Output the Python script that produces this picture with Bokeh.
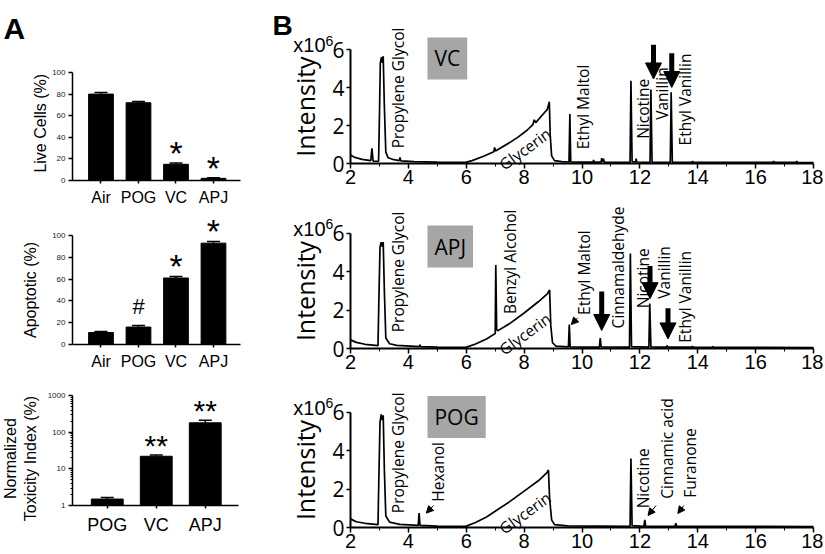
from bokeh.plotting import figure
from bokeh.layouts import row, column
from bokeh.models import (ColumnDataSource, Whisker, TeeHead, Label, LabelSet,
                          Arrow, NormalHead, FixedTicker)
from bokeh.core.properties import value
from bokeh.embed import file_html
from bokeh.resources import INLINE

# ---------------- Panel A data ----------------
live_cats = ["Air", "POG", "VC", "APJ"]
live_vals = [80, 72, 15, 2]
live_errs = [1.5, 1.2, 1.2, 0.6]
live_marks = ["", "", "*", "*"]

apop_cats = ["Air", "POG", "VC", "APJ"]
apop_vals = [11, 16, 61, 93]
apop_errs = [1.0, 1.5, 1.5, 1.5]
apop_marks = ["", "#", "*", "*"]

tox_cats = ["POG", "VC", "APJ"]
tox_vals = [1.5, 22, 180]
tox_errs = [0.15, 2.0, 30]
tox_marks = ["", "**", "**"]

# ---------------- Panel B data (time in min, intensity x10^6) ----------------
vc_time = [2.00, 2.15, 2.40, 2.70, 2.74, 2.78, 2.97, 3.00, 3.03, 3.07, 3.10, 3.13, 3.17, 3.22,
           3.30, 3.50, 3.68, 3.71, 3.74, 4.20, 5.00, 5.98, 6.20, 6.60, 6.95, 6.98, 7.01, 7.50,
           7.80, 8.10, 8.30, 8.35, 8.40, 8.60, 8.80, 8.87, 8.90, 8.95, 9.05, 9.30, 9.55, 9.58,
           9.61, 10.00, 10.38, 10.40, 10.42, 10.66, 10.68, 10.70, 10.74, 10.77, 11.66, 11.69,
           11.73, 11.85, 11.87, 11.89, 12.35, 12.38, 12.42, 13.05, 13.08, 13.12, 13.80, 13.82,
           13.84, 16.60, 16.62, 16.64, 17.40, 17.42, 17.44, 18.00]
vc_int = [0.45, 0.32, 0.22, 0.15, 0.80, 0.13, 0.12, 2.50, 5.30, 5.60, 5.30, 5.65, 3.00, 0.60,
          0.30, 0.20, 0.15, 0.32, 0.14, 0.10, 0.07, 0.06, 0.15, 0.38, 0.62, 0.85, 0.66, 1.10,
          1.40, 1.75, 2.05, 2.30, 2.15, 2.50, 2.85, 3.25, 1.50, 0.40, 0.15, 0.10, 0.08, 2.60,
          0.08, 0.07, 0.07, 0.18, 0.07, 0.07, 0.28, 0.10, 0.25, 0.07, 0.06, 4.35,
          0.10, 0.08, 0.25, 0.08, 0.06, 3.90, 0.07, 0.06, 3.75, 0.07, 0.06, 0.12,
          0.06, 0.06, 0.12, 0.06, 0.06, 0.12, 0.06, 0.05]

apj_time = [2.00, 2.20, 2.50, 2.95, 2.98, 3.02, 3.06, 3.10, 3.13, 3.17, 3.22, 3.35, 3.60, 4.38,
            4.40, 4.42, 5.00, 5.98, 6.30, 6.70, 7.00, 7.02, 7.05, 7.08, 7.50, 8.00, 8.50, 8.80,
            8.88, 8.92, 8.98, 9.10, 9.53, 9.56, 9.59, 10.60, 10.63, 10.66, 11.64, 11.67, 11.71,
            12.31, 12.34, 12.38, 12.92, 12.94, 12.96, 13.80, 13.82, 13.84, 14.50, 14.52, 14.54,
            18.00]
apj_int = [0.45, 0.32, 0.22, 0.15, 2.50, 5.30, 5.55, 5.30, 5.55, 3.00, 0.55, 0.25, 0.16, 0.10,
           0.20, 0.10, 0.07, 0.06, 0.22, 0.50, 0.78, 4.35, 1.00, 0.92, 1.30, 1.85, 2.45, 2.85,
           3.05, 1.20, 0.30, 0.12, 0.08, 1.25, 0.08, 0.07, 0.55, 0.08, 0.07, 4.95, 0.10,
           0.07, 2.35, 0.08, 0.07, 0.15, 0.07, 0.07, 0.12, 0.07, 0.06, 0.10, 0.06,
           0.05]

pog_time = [2.00, 2.20, 2.50, 2.95, 2.98, 3.02, 3.06, 3.10, 3.13, 3.17, 3.22, 3.35, 3.70, 4.34,
            4.37, 4.40, 5.00, 5.98, 6.30, 6.70, 7.00, 7.50, 8.00, 8.50, 8.78, 8.84, 8.88, 8.95,
            9.05, 9.50, 11.66, 11.69, 11.73, 12.14, 12.17, 12.20, 13.21, 13.24, 13.27, 18.00]
pog_int = [0.45, 0.30, 0.22, 0.15, 2.60, 5.50, 5.90, 5.60, 5.85, 3.00, 0.60, 0.28, 0.16, 0.11,
           0.75, 0.11, 0.07, 0.06, 0.25, 0.55, 0.85, 1.35, 1.90, 2.45, 2.85, 3.00, 1.50, 0.40,
           0.15, 0.08, 0.06, 3.60, 0.10, 0.06, 0.40, 0.06, 0.06, 0.22, 0.06, 0.05]

# peak annotations: name, retention time, intensity where the label starts
vc_names = ["Propylene Glycol", "Ethyl Maltol", "Nicotine", "Vanillin", "Ethyl Vanillin"]
vc_name_t = [3.63, 10.05, 12.09, 12.78, 13.56]
vc_name_y = [0.80, 0.75, 1.30, 2.30, 0.95]
vc_arrow_t = [12.47, 13.10]
vc_arrow_from = [6.25, 5.80]
vc_arrow_to = [4.45, 4.00]

apj_names = ["Propylene Glycol", "Benzyl Alcohol", "Ethyl Maltol", "Cinnamaldehyde",
             "Nicotine", "Vanillin", "Ethyl Vanillin"]
apj_name_t = [3.63, 7.50, 10.07, 11.24, 12.09, 12.82, 13.56]
apj_name_y = [0.85, 1.80, 1.75, 1.05, 2.10, 2.60, 0.30]
apj_arrow_t = [10.68, 12.35, 12.97]
apj_arrow_from = [2.97, 4.30, 2.10]
apj_arrow_to = [0.94, 2.60, 0.50]
apj_small = [(9.85, 1.60, 9.63, 1.25)]

pog_names = ["Propylene Glycol", "Hexanol", "Nicotine", "Cinnamic acid", "Furanone"]
pog_name_t = [3.63, 5.04, 12.09, 12.94, 13.73]
pog_name_y = [0.75, 1.35, 1.00, 1.50, 1.55]
pog_small = [(4.87, 1.15, 4.62, 0.75), (12.56, 1.15, 12.28, 0.63), (13.52, 1.15, 13.31, 0.73)]

ARIAL = "Liberation Sans"
OPEN = "Open Sans"


def bar_panel(cats, vals, errs, marks, ylabel, lab_x, lab_y, height, xr, xb, yr,
              bar_w, log=False, cat_size="16px", mark_size="34px", mark_off=-2, letter=None):
    kw = dict(width=244, height=height, min_border=0, x_range=xr, y_range=yr,
              output_backend="svg", toolbar_location=None)
    if log:
        p = figure(y_axis_type="log", **kw)
        base = 1
        yb = (1, 1000)
    else:
        p = figure(**kw)
        base = 0
        yb = (0, 100)
    xs = list(range(len(cats)))
    upper = [v + e for v, e in zip(vals, errs)]
    src = ColumnDataSource(dict(x=xs, top=vals, upper=upper))
    p.vbar(x="x", top="top", bottom=base, width=bar_w, source=src,
           fill_color="black", line_color="black")
    p.add_layout(Whisker(source=src, base="x", lower="top", upper="upper",
                         dimension="height", line_color="black", line_width=1.5,
                         upper_head=TeeHead(size=13, line_color="black", line_width=1.5),
                         lower_head=None))
    star_src = ColumnDataSource(dict(
        x=[x for x, m in zip(xs, marks) if "*" in m],
        y=[u for u, m in zip(upper, marks) if "*" in m],
        t=[m for m in marks if "*" in m]))
    p.add_layout(LabelSet(x="x", y="y", text="t", source=star_src, text_align="center",
                          text_baseline="alphabetic", y_offset=mark_off,
                          text_font=value(ARIAL), text_font_size=mark_size,
                          text_color="black"))
    hash_src = ColumnDataSource(dict(
        x=[x for x, m in zip(xs, marks) if m == "#"],
        y=[u for u, m in zip(upper, marks) if m == "#"],
        t=[m for m in marks if m == "#"]))
    p.add_layout(LabelSet(x="x", y="y", text="t", source=hash_src, text_align="center",
                          text_baseline="bottom", y_offset=6,
                          text_font=value(ARIAL), text_font_size="22px",
                          text_color="black"))

    p.xgrid.visible = False
    p.ygrid.visible = False
    p.outline_line_color = None
    p.xaxis.fixed_location = base
    p.xaxis.bounds = xb
    p.xaxis.ticker = FixedTicker(ticks=xs)
    p.xaxis.major_label_overrides = {i: c for i, c in enumerate(cats)}
    p.xaxis.major_label_text_font = ARIAL
    p.xaxis.major_label_text_font_size = cat_size
    p.xaxis.major_label_text_color = "black"
    p.xaxis.major_tick_out = 3
    p.xaxis.major_tick_in = 0
    p.xaxis.major_label_standoff = 6
    p.xaxis.axis_line_width = 1.5
    p.xaxis.major_tick_line_width = 1.5

    p.yaxis.fixed_location = xb[0]
    p.yaxis.bounds = yb
    if log:
        ticks = [1, 10, 100, 1000]
        minor = [m * d for d in (1, 10, 100) for m in range(2, 10)]
        p.yaxis.ticker = FixedTicker(ticks=ticks, minor_ticks=minor)
        p.yaxis.major_label_overrides = {t: str(t) for t in ticks}
        p.yaxis.minor_tick_out = 2
        p.yaxis.minor_tick_in = 0
    else:
        p.yaxis.ticker = FixedTicker(ticks=[0, 20, 40, 60, 80, 100])
    p.yaxis.major_label_text_font = ARIAL
    p.yaxis.major_label_text_font_size = "8px"
    p.yaxis.major_label_text_color = "#222222"
    p.yaxis.major_tick_out = 4
    p.yaxis.major_tick_in = 0
    p.yaxis.major_label_standoff = 3
    p.yaxis.axis_line_width = 1.5
    p.yaxis.major_tick_line_width = 1.5

    p.add_layout(Label(x=lab_x, y=lab_y, text=ylabel, angle=90, angle_units="deg",
                       text_align="center", text_baseline="middle", text_font=ARIAL,
                       text_font_size="16px", text_color="black"))
    if letter is not None:
        p.add_layout(Label(x=-2.6, y=140.7, text=letter, text_font=ARIAL,
                           text_font_size="30px", text_font_style="bold",
                           text_color="black",
                           text_align="left", text_baseline="alphabetic"))
    return p


def chrom_panel(times, ints, tag, tag_y, names, name_t, name_y, arrow_t, arrow_from,
                arrow_to, small, height, yr, letter=None):
    p = figure(width=579, height=height, x_range=(-1.663, 18.344), y_range=yr,
               min_border=0, output_backend="svg", toolbar_location=None)
    p.line(times, ints, line_color="black", line_width=1.7)
    p.xgrid.visible = False
    p.ygrid.visible = False
    p.outline_line_color = None

    p.xaxis.fixed_location = 0
    p.xaxis.bounds = (2, 18)
    p.xaxis.ticker = FixedTicker(ticks=list(range(2, 19, 2)), minor_ticks=list(range(3, 18, 2)))
    p.xaxis.major_label_text_font = ARIAL
    p.xaxis.major_label_text_font_size = "20px"
    p.xaxis.major_label_text_color = "black"
    p.xaxis.major_tick_out = 5
    p.xaxis.major_tick_in = 0
    p.xaxis.minor_tick_out = 3
    p.xaxis.minor_tick_in = 0
    p.xaxis.major_label_standoff = 1
    p.xaxis.axis_line_width = 2
    p.xaxis.major_tick_line_width = 1.5

    p.yaxis.fixed_location = 2
    p.yaxis.bounds = (0, 6)
    p.yaxis.ticker = FixedTicker(ticks=[0, 2, 4, 6], minor_ticks=[])
    p.yaxis.major_label_text_font = OPEN
    p.yaxis.major_label_text_font_size = "21px"
    p.yaxis.major_label_text_color = "black"
    p.yaxis.major_tick_out = 4
    p.yaxis.major_tick_in = 0
    p.yaxis.major_label_standoff = 2
    p.yaxis.axis_line_width = 2
    p.yaxis.major_tick_line_width = 1.5

    p.add_layout(Label(x=0.44, y=3, text="Intensity", angle=90, angle_units="deg",
                       text_align="center", text_baseline="middle", text_font=OPEN,
                       text_font_size="25px", text_color="black"))
    p.add_layout(Label(x=1.136, y=6.22, text="x10", text_align="right",
                       text_baseline="alphabetic", text_font=ARIAL, text_font_size="20px",
                       text_color="black"))
    p.add_layout(Label(x=1.136, y=6.47, text="6", text_align="left",
                       text_baseline="alphabetic", text_font=ARIAL, text_font_size="14px",
                       text_color="black"))

    p.add_layout(Label(x=4.66, y=tag_y, text=tag, text_align="left", text_baseline="middle",
                       text_font=OPEN, text_font_size="21px", text_color="black",
                       background_fill_color="#a6a6a6", padding=7))

    src = ColumnDataSource(dict(name=names, t=name_t, y=name_y))
    p.add_layout(LabelSet(x="t", y="y", text="name", source=src, angle=90, angle_units="deg",
                          text_align="left", text_baseline="middle",
                          text_font=value(OPEN), text_font_size="15.5px", text_color="black"))
    p.add_layout(Label(x=6.98, y=0.33, text="Glycerin", angle=36, angle_units="deg",
                       text_align="left", text_baseline="top", text_font=OPEN,
                       text_font_size="15.5px", text_color="black"))

    for t, y0, y1 in zip(arrow_t, arrow_from, arrow_to):
        p.add_layout(Arrow(end=NormalHead(size=16, fill_color="black", line_color="black"),
                           x_start=t, y_start=y0, x_end=t, y_end=y1,
                           line_color="black", line_width=5))
    for x0, y0, x1, y1 in small:
        p.add_layout(Arrow(end=NormalHead(size=7, fill_color="black", line_color="black"),
                           x_start=x0, y_start=y0, x_end=x1, y_end=y1,
                           line_color="black", line_width=1))
    if letter is not None:
        p.add_layout(Label(x=-0.695, y=7.26, text=letter, text_font=ARIAL,
                           text_font_size="28px", text_font_style="bold",
                           text_color="black",
                           text_align="left", text_baseline="alphabetic"))
    return p


a1 = bar_panel(live_cats, live_vals, live_errs, live_marks, "Live Cells (%)", -1.613, 53,
               210, (-2.68, 3.827), (-0.76, 3.72), (-27.78, 166.67), 0.66, letter="A")
a2 = bar_panel(apop_cats, apop_vals, apop_errs, apop_marks, "Apoptotic (%)", -1.893, 50,
               162, (-2.68, 3.827), (-0.76, 3.72), (-25.69, 122.94), 0.66)
a3 = bar_panel(tox_cats, tox_vals, tox_errs, tox_marks, "Normalized\nToxicity Index (%)",
               -1.771, 19.1, 180, (-2.179, 2.801), (-0.71, 2.67), (0.0523, 4236), 0.65,
               log=True, cat_size="18px", mark_size="30px", mark_off=-1)

b1 = chrom_panel(vc_time, vc_int, "VC", 5.53, vc_names, vc_name_t, vc_name_y,
                 vc_arrow_t, vc_arrow_from, vc_arrow_to, [], 200, (-1.947, 8.579), letter="B")
b2 = chrom_panel(apj_time, apj_int, "APJ", 5.32, apj_names, apj_name_t, apj_name_y,
                 apj_arrow_t, apj_arrow_from, apj_arrow_to, apj_small, 180, (-1.669, 7.720))
b3 = chrom_panel(pog_time, pog_int, "POG", 5.76, pog_names, pog_name_t, pog_name_y,
                 [], [], [], pog_small, 172, (-1.304, 7.668))

layout = row(column(a1, a2, a3), column(b1, b2, b3))

open("out.html", "w").write(file_html(layout, INLINE))
